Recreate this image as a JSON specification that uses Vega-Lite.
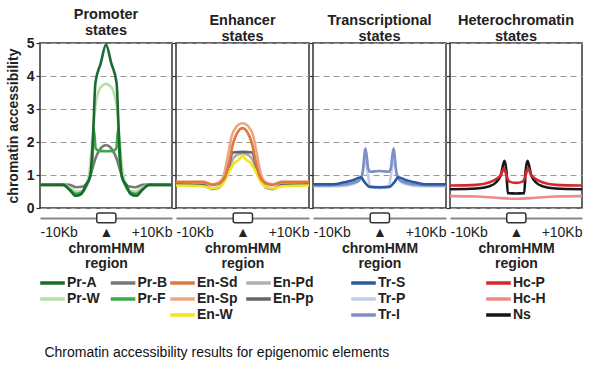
{
  "$schema": "https://vega.github.io/schema/vega-lite/v6.json",
  "padding": {"left": 5, "top": 5, "right": 5, "bottom": 5},
  "spacing": 4,
  "bounds": "flush",
  "title": {"text": "Chromatin accessibility results for epigenomic elements", "orient": "bottom", "anchor": "start", "fontSize": 14, "fontWeight": "normal", "color": "#111", "offset": 23, "dx": 39},
  "datasets": {
    "region": [{"start": -1.4, "end": 1.5}],
    "promoter": [
      {"s":"Pr-B","x":-10,"y":0.7},{"s":"Pr-B","x":-7,"y":0.72},{"s":"Pr-B","x":-5.5,"y":0.7},{"s":"Pr-B","x":-4.5,"y":0.63},{"s":"Pr-B","x":-3.5,"y":0.65},{"s":"Pr-B","x":-2.8,"y":0.8},{"s":"Pr-B","x":-2.2,"y":1.1},{"s":"Pr-B","x":-1.6,"y":1.5},{"s":"Pr-B","x":-1,"y":1.75},{"s":"Pr-B","x":-0.5,"y":1.87},{"s":"Pr-B","x":0,"y":1.9},{"s":"Pr-B","x":0.5,"y":1.87},{"s":"Pr-B","x":1,"y":1.75},{"s":"Pr-B","x":1.6,"y":1.5},{"s":"Pr-B","x":2.2,"y":1.1},{"s":"Pr-B","x":2.8,"y":0.8},{"s":"Pr-B","x":3.5,"y":0.65},{"s":"Pr-B","x":4.5,"y":0.63},{"s":"Pr-B","x":5.5,"y":0.7},{"s":"Pr-B","x":7,"y":0.72},{"s":"Pr-B","x":10,"y":0.7},
      {"s":"Pr-W","x":-10,"y":0.7},{"s":"Pr-W","x":-6.5,"y":0.7},{"s":"Pr-W","x":-5.5,"y":0.62},{"s":"Pr-W","x":-4.5,"y":0.5},{"s":"Pr-W","x":-3.6,"y":0.53},{"s":"Pr-W","x":-3,"y":0.7},{"s":"Pr-W","x":-2.5,"y":1.1},{"s":"Pr-W","x":-2,"y":2.2},{"s":"Pr-W","x":-1.6,"y":3.1},{"s":"Pr-W","x":-1.1,"y":3.55},{"s":"Pr-W","x":-0.5,"y":3.72},{"s":"Pr-W","x":0,"y":3.76},{"s":"Pr-W","x":0.5,"y":3.72},{"s":"Pr-W","x":1.1,"y":3.55},{"s":"Pr-W","x":1.6,"y":3.1},{"s":"Pr-W","x":2,"y":2.2},{"s":"Pr-W","x":2.5,"y":1.1},{"s":"Pr-W","x":3,"y":0.7},{"s":"Pr-W","x":3.6,"y":0.53},{"s":"Pr-W","x":4.5,"y":0.5},{"s":"Pr-W","x":5.5,"y":0.62},{"s":"Pr-W","x":6.5,"y":0.7},{"s":"Pr-W","x":10,"y":0.7},
      {"s":"Pr-F","x":-10,"y":0.7},{"s":"Pr-F","x":-6.5,"y":0.7},{"s":"Pr-F","x":-5.5,"y":0.55},{"s":"Pr-F","x":-4.5,"y":0.43},{"s":"Pr-F","x":-3.6,"y":0.48},{"s":"Pr-F","x":-3,"y":0.65},{"s":"Pr-F","x":-2.5,"y":0.9},{"s":"Pr-F","x":-2.1,"y":1.3},{"s":"Pr-F","x":-1.85,"y":2.4},{"s":"Pr-F","x":-1.55,"y":1.8},{"s":"Pr-F","x":-1,"y":1.73},{"s":"Pr-F","x":0,"y":1.72},{"s":"Pr-F","x":1,"y":1.73},{"s":"Pr-F","x":1.55,"y":1.8},{"s":"Pr-F","x":1.85,"y":2.4},{"s":"Pr-F","x":2.1,"y":1.3},{"s":"Pr-F","x":2.5,"y":0.9},{"s":"Pr-F","x":3,"y":0.65},{"s":"Pr-F","x":3.6,"y":0.48},{"s":"Pr-F","x":4.5,"y":0.43},{"s":"Pr-F","x":5.5,"y":0.55},{"s":"Pr-F","x":6.5,"y":0.7},{"s":"Pr-F","x":10,"y":0.7},
      {"s":"Pr-A","x":-10,"y":0.7},{"s":"Pr-A","x":-6.5,"y":0.7},{"s":"Pr-A","x":-5.5,"y":0.55},{"s":"Pr-A","x":-4.6,"y":0.37},{"s":"Pr-A","x":-3.7,"y":0.43},{"s":"Pr-A","x":-3.1,"y":0.68},{"s":"Pr-A","x":-2.4,"y":0.95},{"s":"Pr-A","x":-2,"y":2.0},{"s":"Pr-A","x":-1.6,"y":3.8},{"s":"Pr-A","x":-0.8,"y":4.38},{"s":"Pr-A","x":0,"y":4.95},{"s":"Pr-A","x":0.8,"y":4.38},{"s":"Pr-A","x":1.6,"y":3.8},{"s":"Pr-A","x":2,"y":2.0},{"s":"Pr-A","x":2.4,"y":0.95},{"s":"Pr-A","x":3.1,"y":0.68},{"s":"Pr-A","x":3.7,"y":0.43},{"s":"Pr-A","x":4.6,"y":0.37},{"s":"Pr-A","x":5.5,"y":0.55},{"s":"Pr-A","x":6.5,"y":0.7},{"s":"Pr-A","x":10,"y":0.7}
    ],
    "enhancer": [
      {"s":"En-Pd","x":-10,"y":0.7},{"s":"En-Pd","x":-6,"y":0.68},{"s":"En-Pd","x":-4.5,"y":0.57},{"s":"En-Pd","x":-3.5,"y":0.62},{"s":"En-Pd","x":-2.7,"y":0.85},{"s":"En-Pd","x":-2,"y":1.2},{"s":"En-Pd","x":-1.4,"y":1.5},{"s":"En-Pd","x":-0.7,"y":1.62},{"s":"En-Pd","x":0,"y":1.65},{"s":"En-Pd","x":0.7,"y":1.62},{"s":"En-Pd","x":1.4,"y":1.5},{"s":"En-Pd","x":2,"y":1.2},{"s":"En-Pd","x":2.7,"y":0.85},{"s":"En-Pd","x":3.5,"y":0.62},{"s":"En-Pd","x":4.5,"y":0.57},{"s":"En-Pd","x":6,"y":0.68},{"s":"En-Pd","x":10,"y":0.7},
      {"s":"En-Pp","x":-10,"y":0.72},{"s":"En-Pp","x":-6,"y":0.7},{"s":"En-Pp","x":-4.5,"y":0.6},{"s":"En-Pp","x":-3.5,"y":0.65},{"s":"En-Pp","x":-2.7,"y":0.9},{"s":"En-Pp","x":-2,"y":1.3},{"s":"En-Pp","x":-1.5,"y":1.68},{"s":"En-Pp","x":0,"y":1.7},{"s":"En-Pp","x":1.5,"y":1.68},{"s":"En-Pp","x":2,"y":1.3},{"s":"En-Pp","x":2.7,"y":0.9},{"s":"En-Pp","x":3.5,"y":0.65},{"s":"En-Pp","x":4.5,"y":0.6},{"s":"En-Pp","x":6,"y":0.7},{"s":"En-Pp","x":10,"y":0.72},
      {"s":"En-W","x":-10,"y":0.68},{"s":"En-W","x":-6,"y":0.66},{"s":"En-W","x":-4.5,"y":0.6},{"s":"En-W","x":-3.5,"y":0.64},{"s":"En-W","x":-2.7,"y":0.82},{"s":"En-W","x":-2,"y":1.1},{"s":"En-W","x":-1.3,"y":1.35},{"s":"En-W","x":-0.6,"y":1.45},{"s":"En-W","x":0,"y":1.58},{"s":"En-W","x":0.6,"y":1.45},{"s":"En-W","x":1.3,"y":1.35},{"s":"En-W","x":2,"y":1.1},{"s":"En-W","x":2.7,"y":0.82},{"s":"En-W","x":3.5,"y":0.64},{"s":"En-W","x":4.5,"y":0.6},{"s":"En-W","x":6,"y":0.66},{"s":"En-W","x":10,"y":0.68},
      {"s":"En-Sp","x":-10,"y":0.8},{"s":"En-Sp","x":-6,"y":0.8},{"s":"En-Sp","x":-4.5,"y":0.72},{"s":"En-Sp","x":-3.5,"y":0.78},{"s":"En-Sp","x":-2.8,"y":1.0},{"s":"En-Sp","x":-2.2,"y":1.6},{"s":"En-Sp","x":-1.6,"y":2.2},{"s":"En-Sp","x":-0.9,"y":2.47},{"s":"En-Sp","x":0,"y":2.57},{"s":"En-Sp","x":0.9,"y":2.47},{"s":"En-Sp","x":1.6,"y":2.2},{"s":"En-Sp","x":2.2,"y":1.6},{"s":"En-Sp","x":2.8,"y":1.0},{"s":"En-Sp","x":3.5,"y":0.78},{"s":"En-Sp","x":4.5,"y":0.72},{"s":"En-Sp","x":6,"y":0.8},{"s":"En-Sp","x":10,"y":0.8},
      {"s":"En-Sd","x":-10,"y":0.78},{"s":"En-Sd","x":-6,"y":0.78},{"s":"En-Sd","x":-4.5,"y":0.7},{"s":"En-Sd","x":-3.5,"y":0.75},{"s":"En-Sd","x":-2.6,"y":0.95},{"s":"En-Sd","x":-2,"y":1.4},{"s":"En-Sd","x":-1.4,"y":1.97},{"s":"En-Sd","x":0,"y":2.42},{"s":"En-Sd","x":1.4,"y":1.97},{"s":"En-Sd","x":2,"y":1.4},{"s":"En-Sd","x":2.6,"y":0.95},{"s":"En-Sd","x":3.5,"y":0.75},{"s":"En-Sd","x":4.5,"y":0.7},{"s":"En-Sd","x":6,"y":0.78},{"s":"En-Sd","x":10,"y":0.78}
    ],
    "transcription": [
      {"s":"Tr-P","x":-10,"y":0.66},{"s":"Tr-P","x":-6,"y":0.66},{"s":"Tr-P","x":-4,"y":0.72},{"s":"Tr-P","x":-3,"y":0.85},{"s":"Tr-P","x":-2.5,"y":1.1},{"s":"Tr-P","x":-2.1,"y":1.5},{"s":"Tr-P","x":-1.8,"y":1.1},{"s":"Tr-P","x":-1.4,"y":0.65},{"s":"Tr-P","x":0,"y":0.6},{"s":"Tr-P","x":1.4,"y":0.65},{"s":"Tr-P","x":1.8,"y":1.1},{"s":"Tr-P","x":2.1,"y":1.5},{"s":"Tr-P","x":2.5,"y":1.1},{"s":"Tr-P","x":3,"y":0.85},{"s":"Tr-P","x":4,"y":0.72},{"s":"Tr-P","x":6,"y":0.66},{"s":"Tr-P","x":10,"y":0.66},
      {"s":"Tr-I","x":-10,"y":0.68},{"s":"Tr-I","x":-6,"y":0.7},{"s":"Tr-I","x":-4,"y":0.76},{"s":"Tr-I","x":-3,"y":0.85},{"s":"Tr-I","x":-2.6,"y":1.0},{"s":"Tr-I","x":-2.1,"y":1.8},{"s":"Tr-I","x":-1.7,"y":1.2},{"s":"Tr-I","x":-1.4,"y":1.1},{"s":"Tr-I","x":0,"y":1.12},{"s":"Tr-I","x":1.4,"y":1.1},{"s":"Tr-I","x":1.7,"y":1.2},{"s":"Tr-I","x":2.1,"y":1.8},{"s":"Tr-I","x":2.6,"y":1.0},{"s":"Tr-I","x":3,"y":0.85},{"s":"Tr-I","x":4,"y":0.76},{"s":"Tr-I","x":6,"y":0.7},{"s":"Tr-I","x":10,"y":0.68},
      {"s":"Tr-S","x":-10,"y":0.72},{"s":"Tr-S","x":-7,"y":0.72},{"s":"Tr-S","x":-5.3,"y":0.78},{"s":"Tr-S","x":-4,"y":0.84},{"s":"Tr-S","x":-2.8,"y":0.93},{"s":"Tr-S","x":-2.3,"y":0.8},{"s":"Tr-S","x":-1.5,"y":0.64},{"s":"Tr-S","x":0,"y":0.63},{"s":"Tr-S","x":1.5,"y":0.64},{"s":"Tr-S","x":2.3,"y":0.8},{"s":"Tr-S","x":2.8,"y":0.93},{"s":"Tr-S","x":4,"y":0.84},{"s":"Tr-S","x":5.3,"y":0.78},{"s":"Tr-S","x":7,"y":0.72},{"s":"Tr-S","x":10,"y":0.72}
    ],
    "hetero": [
      {"s":"Hc-H","x":-10,"y":0.36},{"s":"Hc-H","x":-6,"y":0.35},{"s":"Hc-H","x":-3,"y":0.31},{"s":"Hc-H","x":0,"y":0.28},{"s":"Hc-H","x":3,"y":0.31},{"s":"Hc-H","x":6,"y":0.35},{"s":"Hc-H","x":10,"y":0.36},
      {"s":"Ns","x":-10,"y":0.57},{"s":"Ns","x":-6,"y":0.59},{"s":"Ns","x":-4,"y":0.66},{"s":"Ns","x":-3,"y":0.78},{"s":"Ns","x":-2.3,"y":1.0},{"s":"Ns","x":-1.75,"y":1.43},{"s":"Ns","x":-1.45,"y":1.1},{"s":"Ns","x":-1.25,"y":0.45},{"s":"Ns","x":0,"y":0.44},{"s":"Ns","x":1.25,"y":0.45},{"s":"Ns","x":1.45,"y":1.1},{"s":"Ns","x":1.75,"y":1.43},{"s":"Ns","x":2.3,"y":1.0},{"s":"Ns","x":3,"y":0.78},{"s":"Ns","x":4,"y":0.66},{"s":"Ns","x":6,"y":0.59},{"s":"Ns","x":10,"y":0.57},
      {"s":"Hc-P","x":-10,"y":0.68},{"s":"Hc-P","x":-6,"y":0.7},{"s":"Hc-P","x":-4,"y":0.78},{"s":"Hc-P","x":-3,"y":0.88},{"s":"Hc-P","x":-2.3,"y":1.0},{"s":"Hc-P","x":-1.8,"y":1.2},{"s":"Hc-P","x":-1.4,"y":0.95},{"s":"Hc-P","x":-1,"y":0.8},{"s":"Hc-P","x":0,"y":0.76},{"s":"Hc-P","x":1,"y":0.8},{"s":"Hc-P","x":1.4,"y":0.95},{"s":"Hc-P","x":1.8,"y":1.2},{"s":"Hc-P","x":2.3,"y":1.0},{"s":"Hc-P","x":3,"y":0.88},{"s":"Hc-P","x":4,"y":0.78},{"s":"Hc-P","x":6,"y":0.7},{"s":"Hc-P","x":10,"y":0.68}
    ]
  },
  "hconcat": [
    {
      "width": 132, "height": 165,
      "title": {"text": ["Promoter", "states"]},
      "layer": [
        {"data": {"name": "promoter"}, "mark": {"type": "line", "strokeWidth": 2.6, "interpolate": "monotone"},
         "encoding": {
           "x": {"field": "x", "type": "quantitative", "scale": {"domain": [-10, 10]}, "axis": {"values": [-10, 0, 10], "labelExpr": "datum.value == 0 ? '▲' : datum.value < 0 ? '-10Kb' : '+10Kb'", "title": ["chromHMM", "region"]}},
           "y": {"field": "y", "type": "quantitative", "scale": {"domain": [0, 5], "nice": false}, "axis": {"values": [0, 1, 2, 3, 4, 5], "title": "chromatin accessibility"}},
           "color": {"field": "s", "type": "nominal", "scale": {"domain": ["Pr-A", "Pr-W", "Pr-B", "Pr-F"], "range": ["#1b6a31", "#b8dea8", "#787878", "#3caa4b"]}, "legend": {"columns": 2, "columnPadding": 2.5, "legendX": 4.5, "legendY": 232}}
         }},
        {"data": {"name": "region"}, "mark": {"type": "rect", "fill": "white", "stroke": "#333", "strokeWidth": 1.5, "cornerRadius": 2, "clip": false},
         "encoding": {
           "x": {"field": "start", "type": "quantitative", "scale": {"domain": [-10, 10]}, "axis": {"values": [-10, 0, 10], "labelExpr": "datum.value == 0 ? '▲' : datum.value < 0 ? '-10Kb' : '+10Kb'", "title": ["chromHMM", "region"]}},
           "x2": {"field": "end"},
           "y": {"datum": -0.15, "scale": {"domain": [0, 5], "nice": false}, "axis": {"values": [0, 1, 2, 3, 4, 5], "title": "chromatin accessibility"}},
           "y2": {"datum": -0.45}
         }}
      ]
    },
    {
      "width": 133, "height": 165,
      "title": {"text": ["Enhancer", "states"]},
      "layer": [
        {"data": {"name": "enhancer"}, "mark": {"type": "line", "strokeWidth": 2.6, "interpolate": "monotone"},
         "encoding": {
           "x": {"field": "x", "type": "quantitative", "scale": {"domain": [-10, 10]}, "axis": {"values": [-10, 0, 10], "labelExpr": "datum.value == 0 ? '▲' : datum.value < 0 ? '-10Kb' : '+10Kb'", "title": ["chromHMM", "region"]}},
           "y": {"field": "y", "type": "quantitative", "scale": {"domain": [0, 5], "nice": false}, "axis": {"values": [0, 1, 2, 3, 4, 5], "labels": false, "title": null}},
           "color": {"field": "s", "type": "nominal", "scale": {"domain": ["En-Sd", "En-Sp", "En-W", "En-Pd", "En-Pp"], "range": ["#de7843", "#eca882", "#f3e51b", "#b0b0b0", "#666666"]}, "legend": {"columns": 2, "columnPadding": 1, "legendX": -1.5, "legendY": 232}}
         }},
        {"data": {"name": "region"}, "mark": {"type": "rect", "fill": "white", "stroke": "#333", "strokeWidth": 1.5, "cornerRadius": 2, "clip": false},
         "encoding": {
           "x": {"field": "start", "type": "quantitative", "scale": {"domain": [-10, 10]}, "axis": {"values": [-10, 0, 10], "labelExpr": "datum.value == 0 ? '▲' : datum.value < 0 ? '-10Kb' : '+10Kb'", "title": ["chromHMM", "region"]}},
           "x2": {"field": "end"},
           "y": {"datum": -0.15, "scale": {"domain": [0, 5], "nice": false}, "axis": {"values": [0, 1, 2, 3, 4, 5], "labels": false, "title": null}},
           "y2": {"datum": -0.45}
         }}
      ]
    },
    {
      "width": 133, "height": 165,
      "title": {"text": ["Transcriptional", "states"]},
      "layer": [
        {"data": {"name": "transcription"}, "mark": {"type": "line", "strokeWidth": 2.6, "interpolate": "monotone"},
         "encoding": {
           "x": {"field": "x", "type": "quantitative", "scale": {"domain": [-10, 10]}, "axis": {"values": [-10, 0, 10], "labelExpr": "datum.value == 0 ? '▲' : datum.value < 0 ? '-10Kb' : '+10Kb'", "title": ["chromHMM", "region"]}},
           "y": {"field": "y", "type": "quantitative", "scale": {"domain": [0, 5], "nice": false}, "axis": {"values": [0, 1, 2, 3, 4, 5], "labels": false, "title": null}},
           "color": {"field": "s", "type": "nominal", "scale": {"domain": ["Tr-S", "Tr-P", "Tr-I"], "range": ["#2b5a9f", "#c4cbe6", "#7e8ec6"]}, "legend": {"columns": 1, "legendX": 42.5, "legendY": 232}}
         }},
        {"data": {"name": "region"}, "mark": {"type": "rect", "fill": "white", "stroke": "#333", "strokeWidth": 1.5, "cornerRadius": 2, "clip": false},
         "encoding": {
           "x": {"field": "start", "type": "quantitative", "scale": {"domain": [-10, 10]}, "axis": {"values": [-10, 0, 10], "labelExpr": "datum.value == 0 ? '▲' : datum.value < 0 ? '-10Kb' : '+10Kb'", "title": ["chromHMM", "region"]}},
           "x2": {"field": "end"},
           "y": {"datum": -0.15, "scale": {"domain": [0, 5], "nice": false}, "axis": {"values": [0, 1, 2, 3, 4, 5], "labels": false, "title": null}},
           "y2": {"datum": -0.45}
         }}
      ]
    },
    {
      "width": 132, "height": 165,
      "title": {"text": ["Heterochromatin", "states"]},
      "layer": [
        {"data": {"name": "hetero"}, "mark": {"type": "line", "strokeWidth": 2.6, "interpolate": "monotone"},
         "encoding": {
           "x": {"field": "x", "type": "quantitative", "scale": {"domain": [-10, 10]}, "axis": {"values": [-10, 0, 10], "labelExpr": "datum.value == 0 ? '▲' : datum.value < 0 ? '-10Kb' : '+10Kb'", "title": ["chromHMM", "region"]}},
           "y": {"field": "y", "type": "quantitative", "scale": {"domain": [0, 5], "nice": false}, "axis": {"values": [0, 1, 2, 3, 4, 5], "labels": false, "title": null}},
           "color": {"field": "s", "type": "nominal", "scale": {"domain": ["Hc-P", "Hc-H", "Ns"], "range": ["#d8262e", "#f08a8a", "#161616"]}, "legend": {"columns": 1, "legendX": 40.5, "legendY": 232}}
         }},
        {"data": {"name": "region"}, "mark": {"type": "rect", "fill": "white", "stroke": "#333", "strokeWidth": 1.5, "cornerRadius": 2, "clip": false},
         "encoding": {
           "x": {"field": "start", "type": "quantitative", "scale": {"domain": [-10, 10]}, "axis": {"values": [-10, 0, 10], "labelExpr": "datum.value == 0 ? '▲' : datum.value < 0 ? '-10Kb' : '+10Kb'", "title": ["chromHMM", "region"]}},
           "x2": {"field": "end"},
           "y": {"datum": -0.15, "scale": {"domain": [0, 5], "nice": false}, "axis": {"values": [0, 1, 2, 3, 4, 5], "labels": false, "title": null}},
           "y2": {"datum": -0.45}
         }}
      ]
    }
  ],
  "resolve": {"scale": {"color": "independent", "x": "independent", "y": "independent"}, "legend": {"color": "independent"}},
  "config": {
    "font": "Liberation Sans",
    "view": {"stroke": "#333", "strokeWidth": 1.5},
    "title": {"fontSize": 14.5, "fontWeight": "bold", "color": "#222", "offset": -2, "lineHeight": 16},
    "axis": {"labelFontSize": 14, "titleFontSize": 14, "titleFontWeight": "bold", "labelColor": "#222", "titleColor": "#222", "labelOverlap": false},
    "axisY": {"domain": false, "tickColor": "#333", "tickSize": 4, "tickWidth": 1.2, "labelFontWeight": "bold", "labelPadding": 2, "titlePadding": 6, "gridColor": "#999", "gridDash": [6, 4], "gridWidth": 1.2},
    "axisX": {"grid": false, "ticks": false, "offset": 10, "domainColor": "#888", "domainWidth": 2, "labelFlush": true, "labelPadding": 7, "labelFontWeight": "normal", "titlePadding": 2, "titleLineHeight": 15},
    "legend": {"orient": "none", "title": null, "symbolType": "M-2.05,0H2.05", "symbolSize": 144, "symbolStrokeWidth": 3.5, "labelFontSize": 14, "labelFontWeight": "bold", "labelColor": "#222", "rowPadding": 1, "columnPadding": 3, "labelOffset": 6.5}
  }
}
